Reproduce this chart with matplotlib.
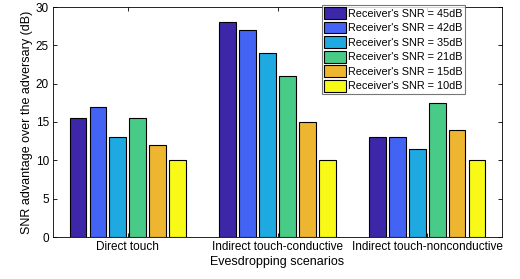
import matplotlib
matplotlib.use("Agg")
import matplotlib.pyplot as plt
import numpy as np

scenarios = ["Direct touch", "Indirect touch-conductive", "Indirect touch-nonconductive"]
series_labels = ["Receiver's SNR = 45dB", "Receiver's SNR = 42dB", "Receiver's SNR = 35dB",
                 "Receiver's SNR = 21dB", "Receiver's SNR = 15dB", "Receiver's SNR = 10dB"]
snr45 = [15.5, 28, 13]
snr42 = [17, 27, 13]
snr35 = [13, 24, 11.5]
snr21 = [15.5, 21, 17.5]
snr15 = [12, 15, 14]
snr10 = [10, 10, 10]
yticks = [0, 5, 10, 15, 20, 25, 30]

series = [snr45, snr42, snr35, snr21, snr15, snr10]
colors = ["#3e26a8", "#4363f5", "#1ea9e1", "#48cb86", "#edb530", "#f9f918"]

plt.rcParams['font.family'] = ['Liberation Sans', 'DejaVu Sans']
fig = plt.figure(figsize=(5.2, 2.79), dpi=100)
ax = fig.add_axes([53/520, 1-237/279, 449/520, 230/279])

x = np.arange(1, len(scenarios) + 1)
step = 0.133
width = 0.112
for i, (vals, c, lab) in enumerate(zip(series, colors, series_labels)):
    ax.bar(x + (i - 2.5) * step, vals, width, color=c, edgecolor="black",
           linewidth=0.8, label=lab)

ax.set_xlim(0.5, 3.5)
ax.set_ylim(0, 30)
ax.set_xticks(x)
ax.set_xticklabels(scenarios)
ax.set_yticks(yticks)
ax.tick_params(direction="in", top=True, right=True, labelsize=8.5, length=3, width=0.6, pad=3)
ax.set_xlabel("Evesdropping scenarios", fontsize=9, labelpad=2)
ax.set_ylabel("SNR advantage over the adversary (dB)", fontsize=9, labelpad=2)
for s in ax.spines.values():
    s.set_linewidth(0.6)

leg = ax.legend(loc="upper right", fontsize=7.8, frameon=True, fancybox=False, edgecolor="#555555",
                handlelength=2.0, handleheight=1.3, handletextpad=0.2, labelspacing=0.25,
                borderpad=0.2, borderaxespad=0)
leg.get_frame().set_linewidth(0.8)
leg.set_bbox_to_anchor((465/520, 1-5/279), transform=fig.transFigure)

fig.savefig("out.png", dpi=100)
